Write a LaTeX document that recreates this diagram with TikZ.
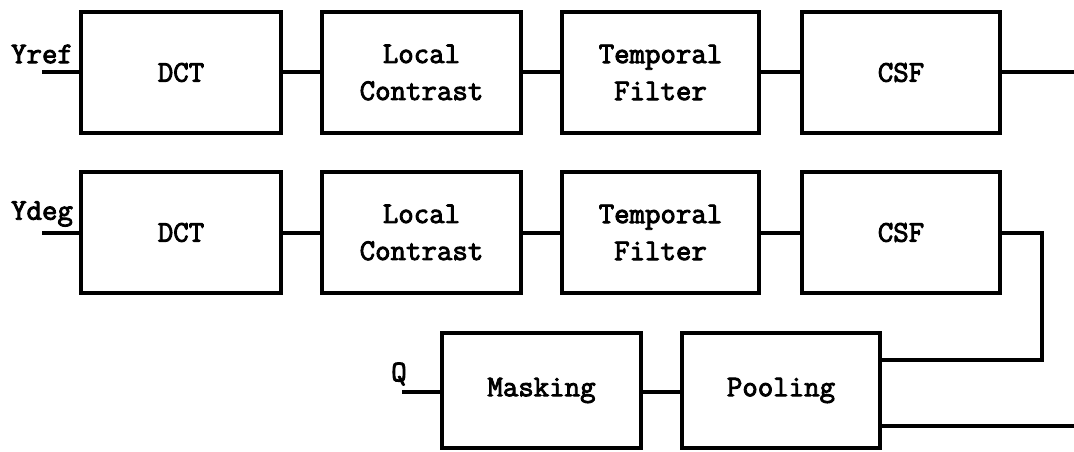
\documentclass[tikz,border=0pt]{standalone}
\usepackage{fontspec}
\newfontfamily\crfont[FakeBold=3]{Latin Modern Mono}
\newcommand{\lblfont}{\crfont\fontsize{30}{37}\selectfont}
\begin{document}
\begin{tikzpicture}[x=1pt,y=-1pt,
  blk/.style={draw,line width=4pt,minimum width=200pt,minimum height=121pt,inner sep=0pt,outer sep=0pt,align=center,font=\lblfont},
  wire/.style={line width=4pt,line join=miter},
  lab/.style={font=\lblfont,inner sep=0pt}]
\useasboundingbox (0,0) rectangle (1074,452);
% row 1
\node[blk] (dct1) at (181,72.5) {DCT};
\node[blk,minimum width=199pt] (lc1) at (421.5,72.5) {Local\\Contrast};
\node[blk,minimum width=197pt] (tf1) at (660.5,72.5) {Temporal\\Filter};
\node[blk,minimum width=198pt] (csf1) at (901,72.5) {CSF};
% row 2
\node[blk] (dct2) at (181,232.5) {DCT};
\node[blk,minimum width=199pt] (lc2) at (421.5,232.5) {Local\\Contrast};
\node[blk,minimum width=197pt] (tf2) at (660.5,232.5) {Temporal\\Filter};
\node[blk,minimum width=198pt] (csf2) at (901,232.5) {CSF};
% row 3
\node[blk,minimum width=199pt,minimum height=115pt] (mask) at (541.5,390.5) {Masking};
\node[blk,minimum width=198pt,minimum height=115pt] (pool) at (781,390.5) {Pooling};
% labels
\node[lab] (yref) at (42,54) {Yref};
\node[lab] (ydeg) at (42,214) {Ydeg};
\node[lab] (q) at (399,374) {Q};
% coordinates
\coordinate (in1) at (42,72.5);
\coordinate (in2) at (42,232.5);
\coordinate (inq) at (402,392);
\coordinate (out1) at (1074,72.5);
\coordinate (bend1) at (1042,232.5);
\coordinate (bend2) at (1042,360);
\coordinate (out2) at (1074,426);
% wires
\draw[wire] (in1) -- (dct1.west);
\draw[wire] (dct1) -- (lc1);
\draw[wire] (lc1) -- (tf1);
\draw[wire] (tf1) -- (csf1);
\draw[wire] (csf1.east) -- (out1);
\draw[wire] (in2) -- (dct2.west);
\draw[wire] (dct2) -- (lc2);
\draw[wire] (lc2) -- (tf2);
\draw[wire] (tf2) -- (csf2);
\draw[wire] (csf2.east) -- (bend1) -- (bend2) -- (bend2 -| pool.east);
\draw[wire] (inq) -- (inq -| mask.west);
\draw[wire] (mask.east |- inq) -- (pool.west |- inq);
\draw[wire] (out2 -| pool.east) -- (out2);
\end{tikzpicture}
\end{document}
